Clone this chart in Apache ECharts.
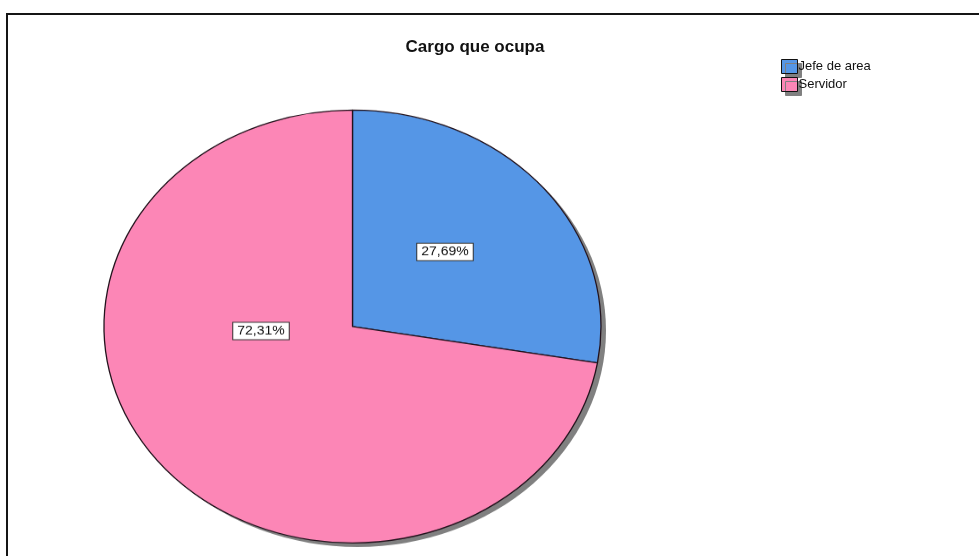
<!DOCTYPE html>
<html>
<head>
<meta charset="utf-8">
<script src="https://cdn.jsdelivr.net/npm/echarts@6/dist/echarts.min.js"></script>
<style>
  html, body { margin: 0; padding: 0; background: #fff; overflow: hidden; }
  #wrap { position: relative; width: 979px; height: 556px; overflow: hidden; background: #fff; }
  #frame { position: absolute; left: 6px; top: 13px; width: 1000px; height: 600px;
           border-top: 2px solid #151515; border-left: 2px solid #151515; box-sizing: border-box; }
  #pie { position: absolute; left: 0; top: 0; width: 979px; height: 639px;
         transform-origin: 0 0; }
  #over { position: absolute; left: 0; top: 0; width: 979px; height: 556px; }
</style>
</head>
<body>
<div id="wrap">
  <div id="frame"></div>
  <div id="pie"></div>
  <div id="over"></div>
</div>
<script>
// ---- data ----
const categories = ['Jefe de area', 'Servidor'];
const percents = [27.69, 72.31];
const titleText = 'Cargo que ocupa';

// ---- style / layout ----
const sliceColors = ['#5596E6', '#FC86B6'];
const ySquash = 0.871;            // ellipse aspect (vertical / horizontal)
const cx = 352.5, cy = 326.5;     // screen centre of ellipse
const rx = 248.5;                 // horizontal radius
const labelScreen = [[445, 252], [261, 331]];

const pieDiv = document.getElementById('pie');
pieDiv.style.transform = 'scale(1,' + ySquash + ')';

const fmt = v => v.toFixed(2).replace('.', ',') + '%';

const pieData = categories.map((c, i) => ({
  name: c, value: percents[i], itemStyle: { color: sliceColors[i] }
}));

const pieChart = echarts.init(pieDiv, null, { renderer: 'canvas' });
pieChart.setOption({
  animation: false,
  series: [
    {
      type: 'pie',
      silent: true,
      z: 1,
      center: [cx + 5, (cy + 4) / ySquash],
      radius: [0, rx],
      label: { show: false },
      labelLine: { show: false },
      itemStyle: { color: '#808080', borderWidth: 0 },
      data: [{ name: 'shadow', value: 1 }]
    },
    {
      type: 'pie',
      z: 2,
      center: [cx, cy / ySquash],
      radius: [0, rx],
      startAngle: 90,
      clockwise: true,
      avoidLabelOverlap: false,
      itemStyle: { borderColor: '#22121c', borderWidth: 1.3 },
      emphasis: { scale: false },
      label: {
        show: true,
        position: 'inside',
        formatter: p => fmt(p.value),
        color: '#111',
        fontFamily: '"Liberation Sans", Arial, sans-serif',
        fontSize: 14,
        backgroundColor: '#ffffff',
        borderColor: '#333',
        borderWidth: 1,
        padding: [3, 4, 2, 4]
      },
      labelLine: { show: false },
      labelLayout: function (params) {
        const p = labelScreen[params.dataIndex];
        return { x: p[0], y: p[1] / ySquash, align: 'center', verticalAlign: 'middle' };
      },
      data: pieData
    }
  ]
});

const over = echarts.init(document.getElementById('over'), null, { renderer: 'canvas' });
over.setOption({
  animation: false,
  title: {
    text: titleText,
    left: 470,
    top: 34,
    textAlign: 'center',
    textStyle: { fontFamily: '"Liberation Sans", Arial, sans-serif', fontSize: 17, fontWeight: 'bold', color: '#111' }
  },
  legend: {
    orient: 'vertical',
    left: 781,
    top: 59,
    itemWidth: 16,
    itemHeight: 14,
    itemGap: 3,
    icon: 'rect',
    selectedMode: false,
    padding: 0,
    textStyle: { fontFamily: '"Liberation Sans", Arial, sans-serif', fontSize: 13, color: '#111', padding: [0, 0, 0, -4] },
    itemStyle: { borderColor: '#111', borderWidth: 1, shadowColor: '#808080', shadowOffsetX: 4, shadowOffsetY: 4, shadowBlur: 0 },
    data: categories
  },
  series: [{
    type: 'pie',
    silent: true,
    center: [-100, -100],
    radius: [0, 1],
    label: { show: false },
    labelLine: { show: false },
    data: pieData
  }]
});
</script>
</body>
</html>
